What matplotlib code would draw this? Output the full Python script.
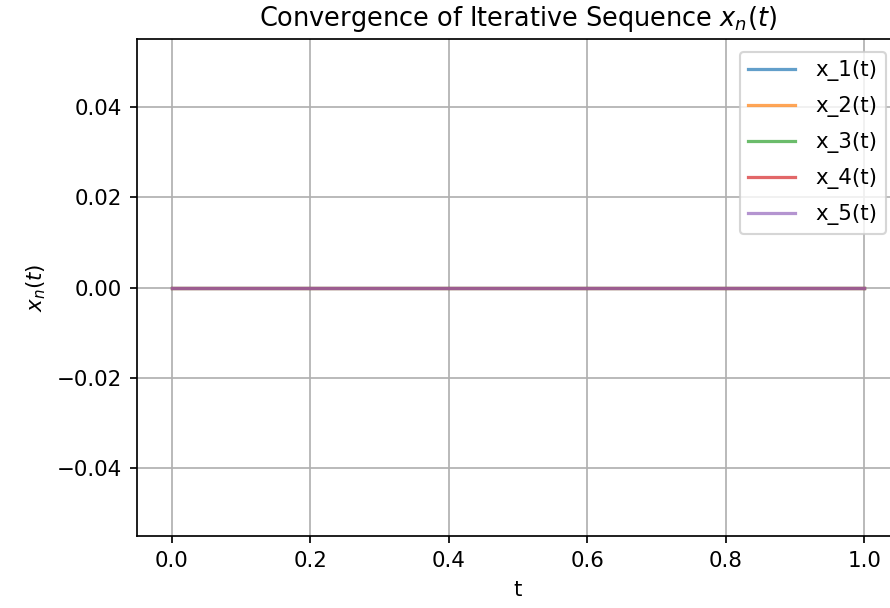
import matplotlib
matplotlib.use("Agg")
import matplotlib.pyplot as plt

# sample points of t and the iterates x_n(t) (all identically zero)
t = [0.0, 1.0]
labels = ["x_1(t)", "x_2(t)", "x_3(t)", "x_4(t)", "x_5(t)"]
values = [
    [0.0, 0.0],
    [0.0, 0.0],
    [0.0, 0.0],
    [0.0, 0.0],
    [0.0, 0.0],
]

dpi = 154
fig = plt.figure(figsize=(890 / dpi, 608 / dpi), dpi=dpi)
ax = fig.add_axes([137 / 890, 72 / 608, 762 / 890, 497 / 608])

for lab, x in zip(labels, values):
    ax.plot(t, x, label=lab, alpha=0.7)

ax.set_title("Convergence of Iterative Sequence $x_n(t)$")
ax.set_xlabel("t")
ax.set_ylabel("$x_n(t)$")
ax.legend(loc="upper right", labelspacing=0.7, handlelength=2.2,
          handletextpad=0.95, borderaxespad=0.6)
ax.grid(True)

fig.savefig("out.png", dpi=dpi)
